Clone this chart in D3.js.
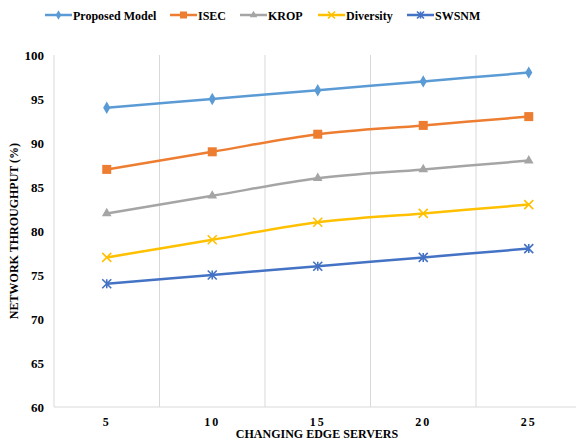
<!DOCTYPE html>
<html>
<head>
<meta charset="utf-8">
<script src="https://cdn.jsdelivr.net/npm/d3@7"></script>
<style>
  html, body { margin: 0; padding: 0; background: #fff; }
  svg { display: block; }
</style>
</head>
<body>
<svg id="chart" width="576" height="445"></svg>
<script>
// Edge servers on the x axis
const categories = ["5", "10", "15", "20", "25"];
const seriesNames = ["Proposed Model", "ISEC", "KROP", "Diversity", "SWSNM"];
const proposedModel = [94, 95, 96, 97, 98];
const isec = [87, 89, 91, 92, 93];
const krop = [82, 84, 86, 87, 88];
const diversity = [77, 79, 81, 82, 83];
const swsnm = [74, 75, 76, 77, 78];
const yTicks = [60, 65, 70, 75, 80, 85, 90, 95, 100];

const colors = ["#5B9BD5", "#ED7D31", "#A5A5A5", "#FFC000", "#4472C4"];
const markers = ["diamond", "square", "triangle", "x", "star"];
const series = [proposedModel, isec, krop, diversity, swsnm].map((v, i) => ({
  name: seriesNames[i], values: v, color: colors[i], marker: markers[i]
}));

const FONT = "'Liberation Serif', 'Times New Roman', serif";
const svg = d3.select("#chart");
const plot = { left: 54, top: 55, right: 581.5, bottom: 407 };

const x = d3.scaleBand().domain(categories).range([plot.left, plot.right]);
const y = d3.scaleLinear().domain([60, 100]).range([plot.bottom, plot.top]);
const cx = c => x(c) + x.bandwidth() / 2;

// vertical gridlines at category boundaries
const bounds = categories.map(c => x(c));
svg.append("g").selectAll("line").data(bounds).join("line")
  .attr("x1", d => d).attr("x2", d => d)
  .attr("y1", plot.top).attr("y2", plot.bottom)
  .attr("stroke", "#d9d9d9").attr("stroke-width", 1);

// bottom axis line
svg.append("line")
  .attr("x1", plot.left).attr("x2", plot.right)
  .attr("y1", plot.bottom).attr("y2", plot.bottom)
  .attr("stroke", "#d9d9d9").attr("stroke-width", 1);

// y tick labels
const yAxis = svg.append("g")
  .attr("transform", `translate(${plot.left - 10},0)`)
  .call(d3.axisLeft(y).tickValues(yTicks).tickSize(0).tickPadding(0));
yAxis.select(".domain").remove();
yAxis.selectAll("text")
  .style("font-family", FONT)
  .style("font-size", "13px").style("font-weight", "bold").attr("fill", "#000");

// x tick labels
const xAxis = svg.append("g")
  .attr("transform", `translate(0,${plot.bottom})`)
  .call(d3.axisBottom(x).tickSize(0).tickPadding(10));
xAxis.select(".domain").remove();
xAxis.selectAll("text")
  .style("font-family", FONT)
  .style("font-size", "12px").style("font-weight", "bold").attr("fill", "#000")
  .style("letter-spacing", "2px");

// axis titles
svg.append("text")
  .attr("x", 317).attr("y", 438)
  .attr("text-anchor", "middle")
  .style("font-family", FONT)
  .style("font-size", "12px").style("font-weight", "bold")
  .text("CHANGING EDGE SERVERS");

svg.append("text")
  .attr("transform", `translate(18,${(plot.top + plot.bottom) / 2}) rotate(-90)`)
  .attr("text-anchor", "middle")
  .style("font-family", FONT)
  .style("font-size", "12px").style("font-weight", "bold")
  .text("NETWORK THROUGHPUT (%)");

// marker drawing
function drawMarker(g, type, color, s) {
  if (type === "diamond") {
    g.append("path").attr("d", d3.symbol(d3.symbolDiamond, s * s * 0.55)())
      .attr("fill", color);
  } else if (type === "square") {
    g.append("rect").attr("x", -s / 2).attr("y", -s / 2)
      .attr("width", s).attr("height", s).attr("fill", color);
  } else if (type === "triangle") {
    g.append("path").attr("d", d3.symbol(d3.symbolTriangle, s * s * 0.5)())
      .attr("fill", color);
  } else if (type === "x") {
    const h = s / 2;
    g.append("path").attr("d", `M${-h},${-h}L${h},${h}M${-h},${h}L${h},${-h}`)
      .attr("stroke", color).attr("stroke-width", 1.6).attr("fill", "none");
  } else if (type === "star") {
    const h = s / 2;
    g.append("path")
      .attr("d", `M${-h},${-h}L${h},${h}M${-h},${h}L${h},${-h}M0,${-h}L0,${h}`)
      .attr("stroke", color).attr("stroke-width", 1.6).attr("fill", "none");
  }
}

const line = d3.line()
  .x((d, i) => cx(categories[i]))
  .y(d => y(d))
  .curve(d3.curveCatmullRom.alpha(0.5));

series.forEach(s => {
  svg.append("path")
    .attr("d", line(s.values))
    .attr("fill", "none")
    .attr("stroke", s.color)
    .attr("stroke-width", 2.5);
  s.values.forEach((v, i) => {
    const g = svg.append("g").attr("transform", `translate(${cx(categories[i])},${y(v)})`);
    drawMarker(g, s.marker, s.color, 9);
  });
});

// legend
const legendX = [45, 170, 240, 318, 407];
series.forEach((s, i) => {
  const g = svg.append("g").attr("transform", `translate(${legendX[i]},15)`);
  g.append("line").attr("x1", 0).attr("x2", 27).attr("y1", 0).attr("y2", 0)
    .attr("stroke", s.color).attr("stroke-width", 2.5);
  const m = g.append("g").attr("transform", "translate(13.5,0)");
  drawMarker(m, s.marker, s.color, 7);
  g.append("text").attr("x", 28).attr("y", 4.5)
    .style("font-family", FONT)
    .style("font-size", "12px").style("font-weight", "bold")
    .text(s.name);
});
</script>
</body>
</html>
